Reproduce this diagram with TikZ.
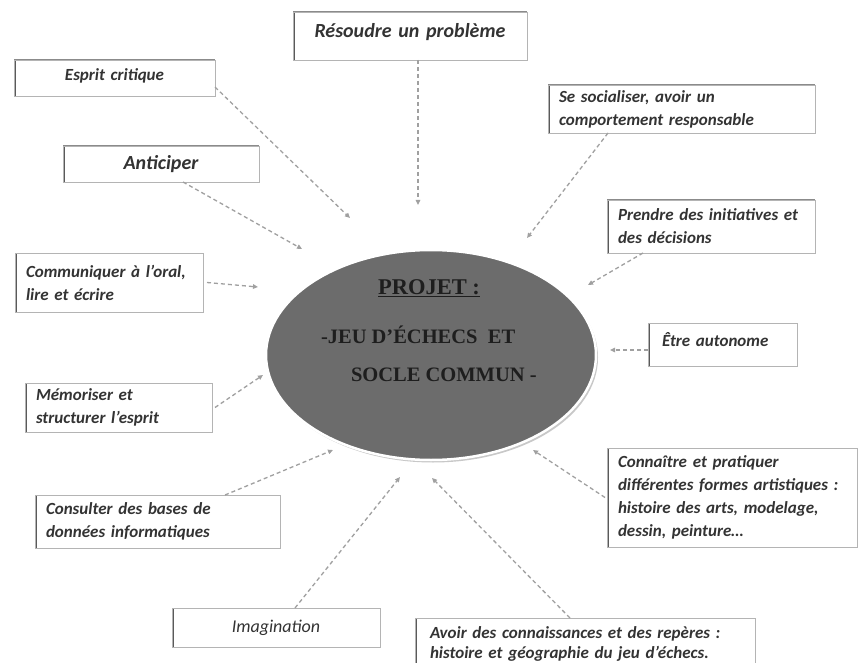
\documentclass[tikz,border=0pt]{standalone}
\usepackage{fontspec}
\setmainfont{Carlito}
\newfontfamily\serifcaps{Liberation Serif}
\usetikzlibrary{arrows.meta,shapes.geometric,shadows}
\definecolor{c6c6c6c}{RGB}{108,108,108}
\definecolor{ca0a0a0}{RGB}{160,160,160}
\definecolor{c333333}{RGB}{51,51,51}
\definecolor{c5a5a5a}{RGB}{90,90,90}
\definecolor{cb4b4b4}{RGB}{180,180,180}
\definecolor{cc8c8c8}{RGB}{200,200,200}
\definecolor{c1e1e1e}{RGB}{30,30,30}

\begin{document}
\begin{tikzpicture}[x=1pt, y=-1pt, inner sep=0pt, outer sep=0pt,
  box/.style={draw=cb4b4b4, line width=0.8pt, fill=white, anchor=north west,
    inner xsep=11pt, inner ysep=2pt, text=c333333, align=left,
    font=\fontsize{17}{23}\selectfont\bfseries\itshape,
    drop shadow={shadow xshift=1.2pt, shadow yshift=-1.2pt, opacity=0.18},
    path picture={\draw[c5a5a5a, line width=3pt] (path picture bounding box.south west) -- (path picture bounding box.north west);
      \draw[c5a5a5a!70, line width=1.8pt] (path picture bounding box.north west) -- (path picture bounding box.north east);}},
  boxbig/.style={box, align=center, font=\fontsize{20}{24}\selectfont\bfseries\itshape},
  projtext/.style={text=c1e1e1e, font=\serifcaps\bfseries\fontsize{20.5}{24}\selectfont},
  arrowline/.style={draw=ca0a0a0, line width=1.3pt, dash pattern=on 4pt off 3pt,
    -{Triangle[length=5pt, width=4.5pt]}}]

  \useasboundingbox (0,0) rectangle (859,663);
  \clip (0,0) rectangle (859,663);
  \fill[white] (0,0) rectangle (859,663);


  \node[ellipse, draw=white, line width=2.5pt, fill=c6c6c6c, minimum width=330pt, minimum height=210pt,
    drop shadow={shadow xshift=2pt, shadow yshift=-2.5pt, fill=cc8c8c8, opacity=1}] (proj) at (431,355) {};

  \node[projtext, font=\serifcaps\bfseries\fontsize{22.5}{26}\selectfont] (projTitre) at (429,288) {\underline{PROJET :}};
  \node[projtext, anchor=west] (projJeu) at (321,335) {-JEU D’ÉCHECS\ \ ET};
  \node[projtext, anchor=west] (projSocle) at (351,375) {SOCLE COMMUN -};


  \node[boxbig, text width=212pt, minimum height=48pt, text depth=12pt] (res) at (293,12) {Résoudre un problème};

  \node[box, align=center, text width=179pt, minimum height=36pt, text depth=7pt] (esp) at (14,60) {Esprit critique};

  \node[boxbig, text width=174pt, minimum height=36pt] (ant) at (63,146) {Anticiper};

  \node[box, text width=245pt, minimum height=48pt] (soc) at (548,85) {Se socialiser, avoir un\\comportement responsable};

  \node[box, text width=186pt, minimum height=53pt] (pre) at (607,200) {Prendre des initiatives et\\des décisions};

  \node[box, text width=166pt, minimum height=59pt] (com) at (15,253) {Communiquer à l’oral,\\lire et écrire};

  \node[box, inner xsep=14pt, text width=121pt, minimum height=43pt, text depth=9pt] (aut) at (648,323) {Être autonome};

  \node[box, text width=165pt, minimum height=49pt] (mem) at (25,383) {Mémoriser et\\structurer l’esprit};

  \node[box, text width=223pt, minimum height=53pt] (con) at (35,495) {Consulter des bases de\\données informatiques};

  \node[box, align=center, text width=186pt, minimum height=39pt, font=\fontsize{18}{23}\selectfont\itshape] (ima) at (172,608) {Imagination};

  \node[box, text width=228pt, minimum height=99pt] (cnn) at (607,448) {Connaître et pratiquer\\différentes formes artistiques :\\histoire des arts, modelage,\\dessin, peinture…};

  \node[box, inner xsep=15pt, text width=310pt, minimum height=52pt, font=\fontsize{17}{20}\selectfont\bfseries\itshape] (avo) at (415,618) {Avoir des connaissances et des repères :\\histoire et géographie du jeu d’échecs.};


  \coordinate (tres) at (418,205);
  \coordinate (tesp) at (350,218);
  \coordinate (tant) at (302,249);
  \coordinate (tsoc) at (527,238);
  \coordinate (tpre) at (588,285);
  \coordinate (tcom) at (258,287);
  \coordinate (taut) at (610,350);
  \coordinate (tmem) at (263,375);
  \coordinate (tcon) at (333,450);
  \coordinate (tima) at (400,477);
  \coordinate (tcnn) at (533,450);
  \coordinate (tavo) at (432,478);

  \draw[arrowline] (res.south -| tres) -- (tres);
  \draw[arrowline] ([yshift=-9pt]esp.east) -- (tesp);
  \draw[arrowline] ([xshift=22pt]ant.south) -- (tant);
  \draw[arrowline] ([xshift=60pt]soc.south west) -- (tsoc);
  \draw[arrowline] ([xshift=36pt]pre.south west) -- (tpre);
  \draw[arrowline] ([xshift=4pt]com.east) -- (tcom);
  \draw[arrowline] (aut.west |- taut) -- (taut);
  \draw[arrowline] ([xshift=3pt]mem.east) -- (tmem);
  \draw[arrowline] ([xshift=190pt]con.north west) -- (tcon);
  \draw[arrowline] ([xshift=123pt]ima.north west) -- (tima);
  \draw[arrowline] ([xshift=-2pt]cnn.west) -- (tcnn);
  \draw[arrowline] ([xshift=155pt]avo.north west) -- (tavo);

\end{tikzpicture}
\end{document}
